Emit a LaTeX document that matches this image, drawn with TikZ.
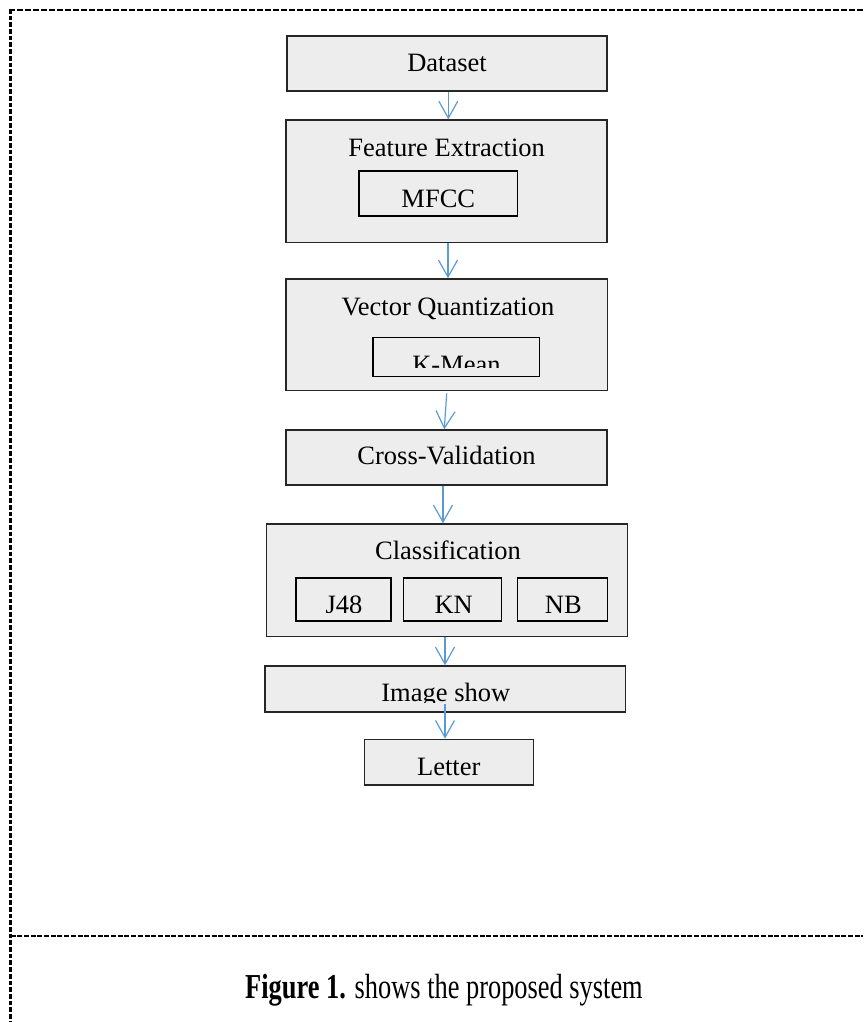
\documentclass[tikz,border=0pt]{standalone}
\usepackage{graphicx}
\usepackage{fontspec}
\setmainfont{Liberation Serif}
\usetikzlibrary{arrows.meta,calc}
\definecolor{boxfill}{HTML}{EDEDED}
\definecolor{arrowblue}{HTML}{5B9BD5}
\begin{document}
\begin{tikzpicture}[x=1pt,y=-1pt,
  stage/.style={draw=black!85, fill=boxfill, line width=1.4pt, inner sep=0pt,
                font=\fontsize{26.5}{30}\selectfont},
  sub/.style={draw=black, fill=boxfill, line width=1.4pt, inner sep=0pt,
              font=\fontsize{26.5}{30}\selectfont},
  lbl/.style={anchor=base, inner sep=0pt, font=\fontsize{26.5}{30}\selectfont},
  flow/.style={draw=arrowblue, line width=1.2pt,
               -{Straight Barb[length=17pt,width=19pt]}},
]
\useasboundingbox (0,0) rectangle (863,1022);

% dashed page frame
\draw[line width=3pt, dash pattern=on 4.7pt off 2pt] (10.5,9) -- (10.5,1022);
\draw[line width=2.7pt, dash pattern=on 6pt off 2pt] (9,10) -- (863,10);
\draw[line width=2pt, dash pattern=on 5pt off 1.7pt] (10.5,936) -- (863,936);

% stages
\node[stage, minimum width=320pt, minimum height=55pt,
      text height=16.4pt, text depth=0pt] (dataset) at (447,63.5) {Dataset};

\node[stage, minimum width=321pt, minimum height=122.3pt] (featext) at (446.5,181.2) {};
\node[lbl] (featext-t) at (446.7,156) {Feature Extraction};
\node[sub, minimum width=158.7pt, minimum height=45pt,
      text height=27pt, text depth=0pt] (mfcc) at (438.3,193.5) {MFCC};

\node[stage, minimum width=321.3pt, minimum height=111.7pt] (vq) at (446.6,334.8) {};
\node[lbl] (vq-t) at (448,315) {Vector Quantization};
\node[sub, minimum width=166.3pt, minimum height=39.4pt] (kmean) at (456.2,357) {};
\begin{scope}
  \clip (373,337) rectangle (539.3,367);
  \node[lbl] (kmean-t) at (456.5,373.5) {K-Mean};
\end{scope}

\node[stage, minimum width=321pt, minimum height=55pt,
      text height=13pt, text depth=0pt] (cv) at (446.5,457.5) {Cross-Validation};

\node[stage, minimum width=361pt, minimum height=112.7pt] (class) at (447.2,580.3) {};
\node[lbl] (class-t) at (448,559) {Classification};
\node[sub, minimum width=95pt, minimum height=43pt] (j48) at (343.5,599.5) {};
\node[sub, minimum width=98.4pt, minimum height=43pt] (kn) at (452.5,599.5) {};
\node[sub, minimum width=90.4pt, minimum height=43pt] (nb) at (562.5,599.5) {};
\begin{scope}
  \clip (296,578) rectangle (607.7,612);
  \node[lbl] (j48-t) at (344,613.5) {J48};
  \node[lbl] (kn-t) at (453.7,613.5) {KN};
  \node[lbl] (nb-t) at (563.3,613.5) {NB};
\end{scope}

\node[stage, minimum width=360.7pt, minimum height=46pt] (imgshow) at (445.4,689) {};
\begin{scope}
  \clip (265,666) rectangle (625.7,702.5);
  \node[lbl] (imgshow-t) at (445.8,701) {Image show};
\end{scope}

\node[stage, minimum width=169pt, minimum height=45.7pt,
      text height=25.6pt, text depth=0pt] (letter) at (448.8,762.2) {Letter};

% flow arrows
\draw[flow] (448.3,0 |- dataset.south) -- (448.3,0 |- featext.north);
\draw[flow] (448,0 |- featext.south) -- (448,0 |- vq.north);
\draw[flow] ($(446.7,0 |- vq.south)+(0,2)$) -- (444.3,0 |- cv.north);
\draw[flow] (443,0 |- cv.south) -- (443,0 |- class.north);
\draw[flow] (445,0 |- class.south) -- (445,0 |- imgshow.north);
\draw[flow] ($(445,0 |- imgshow.south)+(0,-9)$) -- (445,0 |- letter.north);

% caption
\node[anchor=base, inner sep=0pt] (caption) at (444,998)
  {\fontsize{35}{40}\selectfont\scalebox{0.754}[1]{\textbf{Figure 1.} shows the proposed system}};
\end{tikzpicture}
\end{document}
